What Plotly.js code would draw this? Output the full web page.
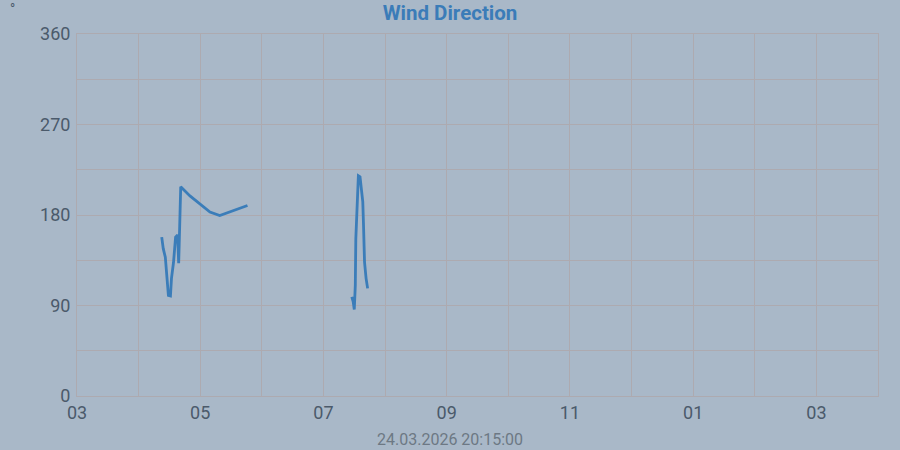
<!DOCTYPE html>
<html>
<head>
<meta charset="utf-8">
<script src="https://cdn.plot.ly/plotly-3.0.1.min.js"></script>
<style>html,body{margin:0;padding:0;background:#a9b8c8;}#chart{width:900px;height:450px;}</style>
</head>
<body>
<div id="chart"></div>
<script>
// Wind direction readings (time, degrees); null separates the two recorded segments
const times = [
  '2026-03-24 04:22:30','2026-03-24 04:24:00','2026-03-24 04:26:00','2026-03-24 04:27:00',
  '2026-03-24 04:28:00','2026-03-24 04:29:00','2026-03-24 04:31:00','2026-03-24 04:32:00',
  '2026-03-24 04:34:00','2026-03-24 04:35:00','2026-03-24 04:36:00','2026-03-24 04:38:00',
  '2026-03-24 04:39:00','2026-03-24 04:39:30','2026-03-24 04:41:00','2026-03-24 04:50:00',
  '2026-03-24 05:00:00','2026-03-24 05:09:30','2026-03-24 05:19:00','2026-03-24 05:32:00',
  '2026-03-24 05:46:00',
  '2026-03-24 06:30:00',
  '2026-03-24 07:27:36','2026-03-24 07:29:00','2026-03-24 07:30:00','2026-03-24 07:31:00',
  '2026-03-24 07:31:30','2026-03-24 07:32:30','2026-03-24 07:33:30','2026-03-24 07:34:00',
  '2026-03-24 07:35:36','2026-03-24 07:36:36','2026-03-24 07:38:18','2026-03-24 07:39:00',
  '2026-03-24 07:40:00','2026-03-24 07:41:30','2026-03-24 07:43:00'
];
const direction = [
  158, 146.5, 138, 126.6,
  110, 100, 99.5, 117,
  133, 145, 158, 160,
  132, 150, 208, 199,
  191, 183, 179.5, 184.5,
  189.5,
  null,
  98.5, 93.5, 86, 110,
  156, 189, 209, 219,
  218, 209, 193, 170,
  133, 117, 107
];
const yTicks = [0, 90, 180, 270, 360];
const chartTitle = 'Wind Direction';
const unitLabel = '°';
const stamp = '24.03.2026 20:15:00';
const xStart = '2026-03-24 03:00:00';
const xEnd = '2026-03-24 16:00:00';

const gridColor = '#adaab0';
const tickColor = '#4b5a6b';

const trace = {
  x: times, y: direction, type: 'scatter', mode: 'lines',
  connectgaps: false,
  line: {color: '#3b7db9', width: 2.8},
  hoverinfo: 'x+y'
};

const layout = {
  width: 900, height: 450,
  paper_bgcolor: '#a9b8c8', plot_bgcolor: '#a9b8c8',
  margin: {l: 77, r: 22, t: 34, b: 54},
  showlegend: false,
  font: {family: 'Roboto, sans-serif', color: tickColor},
  title: {
    text: '<b>' + chartTitle + '</b>',
    font: {family: 'Roboto, sans-serif', size: 20.5, color: '#3b7cb8'},
    x: 0.5, xref: 'container', xanchor: 'center',
    y: 0.972, yref: 'container', yanchor: 'middle'
  },
  xaxis: {
    type: 'date', range: [xStart, xEnd],
    tick0: xStart, dtick: 2 * 3600000, tickformat: '%I',
    showgrid: true, gridcolor: gridColor, gridwidth: 1,
    minor: {dtick: 3600000, tick0: xStart, showgrid: true, gridcolor: gridColor, gridwidth: 1},
    showline: true, mirror: true, linecolor: gridColor, linewidth: 1,
    zeroline: false, ticks: '',
    tickfont: {size: 18, color: tickColor}
  },
  yaxis: {
    range: [0, 360], tickvals: yTicks, ticktext: yTicks.map(String),
    showgrid: true, gridcolor: gridColor, gridwidth: 1,
    minor: {dtick: 45, tick0: 0, showgrid: true, gridcolor: gridColor, gridwidth: 1},
    showline: true, mirror: true, linecolor: gridColor, linewidth: 1,
    zeroline: false, ticks: '', ticklabelstandoff: 2,
    tickfont: {size: 18, color: tickColor}
  },
  annotations: [
    {text: unitLabel, xref: 'paper', yref: 'paper', x: (12 - 77) / 801, y: 1 + (34 - 9) / 362,
     xanchor: 'center', yanchor: 'middle', showarrow: false,
     font: {family: 'Roboto, sans-serif', size: 14, color: tickColor}},
    {text: stamp, xref: 'paper', yref: 'paper', x: (450 - 77) / 801, y: -(440 - 396) / 362,
     xanchor: 'center', yanchor: 'middle', showarrow: false, borderpad: 0,
     font: {family: 'Roboto, sans-serif', size: 16, color: '#6d7884'}}
  ]
};

Plotly.newPlot('chart', [trace], layout, {displayModeBar: false, staticPlot: true});
</script>
</body>
</html>
